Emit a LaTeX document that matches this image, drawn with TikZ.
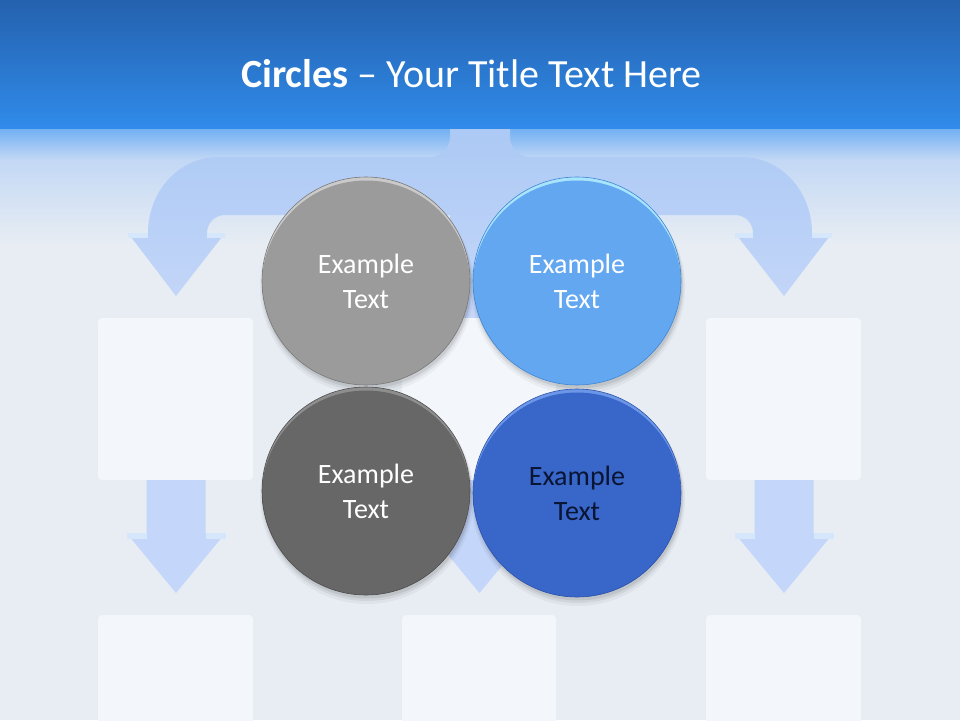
\documentclass[tikz,border=0pt]{standalone}
\usepackage{fontspec}
\setmainfont{Carlito}
\usetikzlibrary{calc}

\definecolor{hdrtop}{HTML}{2461AE}
\definecolor{hdrbot}{HTML}{308BEA}
\definecolor{fadeA}{HTML}{6EAEF3}
\definecolor{fadeB}{HTML}{C3D8F5}
\definecolor{bgmain}{HTML}{E8EDF3}
\definecolor{treetop}{HTML}{A9C8F4}
\definecolor{treebot}{HTML}{C6D7F9}
\definecolor{arrowcol}{HTML}{C4D6F9}
\definecolor{bandcol}{HTML}{D6E7FB}
\definecolor{boxcol}{HTML}{F3F7FC}

\definecolor{gA}{HTML}{9B9B9B}
\definecolor{gAr}{HTML}{808080}
\definecolor{gAh}{HTML}{CACACA}
\definecolor{gAe}{HTML}{787878}
\definecolor{bA}{HTML}{62A7F0}
\definecolor{bAr}{HTML}{448CDB}
\definecolor{bAh}{HTML}{A8E4FB}
\definecolor{bAe}{HTML}{4085D3}
\definecolor{gB}{HTML}{676767}
\definecolor{gBr}{HTML}{4F4F4F}
\definecolor{gBh}{HTML}{8E8E8E}
\definecolor{gBe}{HTML}{4E4E4E}
\definecolor{bB}{HTML}{3866C9}
\definecolor{bBr}{HTML}{2D53AE}
\definecolor{bBh}{HTML}{6C97E8}
\definecolor{bBe}{HTML}{2E52A8}
\definecolor{navytext}{HTML}{0A1533}

\pgfdeclareradialshading{rimgA}{\pgfpoint{0bp}{0bp}}{color(0bp)=(gA);color(40bp)=(gA);color(48bp)=(gAr);color(50bp)=(gAr)}
\pgfdeclareradialshading{rimbA}{\pgfpoint{0bp}{0bp}}{color(0bp)=(bA);color(40bp)=(bA);color(48bp)=(bAr);color(50bp)=(bAr)}
\pgfdeclareradialshading{rimgB}{\pgfpoint{0bp}{0bp}}{color(0bp)=(gB);color(40bp)=(gB);color(48bp)=(gBr);color(50bp)=(gBr)}
\pgfdeclareradialshading{rimbB}{\pgfpoint{0bp}{0bp}}{color(0bp)=(bB);color(40bp)=(bB);color(48bp)=(bBr);color(50bp)=(bBr)}

\tikzset{
  boxpanel/.style={fill=boxcol, rounded corners=4pt},
  arrowfill/.style={fill=arrowcol},
  bandfill/.style={fill=bandcol},
  bubbletext/.style={shape=circle, minimum size=208pt, inner sep=0pt, align=center,
    font=\fontsize{28}{35}\selectfont},
  titletext/.style={font=\fontsize{40}{46}\selectfont, text=white, anchor=base},
}

\newcommand\drawbubble[4]{%
  \fill[black,opacity=0.04] ($(#1)+(1,6)$) circle (107);
  \fill[black,opacity=0.06] ($(#1)+(1,4.5)$) circle (105.5);
  \fill[black,opacity=0.08] ($(#1)+(1,3)$) circle (104.5);
  \begin{scope}
    \clip (#1) circle (104);
    \fill[#3] (#1) circle (104);
    \shade[shading=#2] ($(#1)+(0,3.5)$) circle (104);
  \end{scope}
  \draw[#4, line width=0.6pt] (#1) circle (104);
}

\newcommand\downarrowshape[1]{%
  \fill[arrowfill] (#1-29.5,480) -- (#1+29.5,480) -- (#1+29.5,533) -- (#1+49.5,533)
    -- (#1,593) -- (#1-49.5,533) -- (#1-29.5,533) -- cycle;
  \fill[bandfill] (#1-49.5,533) rectangle (#1-29.5,539);
  \fill[bandfill] (#1+29.5,533) rectangle (#1+49.5,539);
}

\begin{document}
\begin{tikzpicture}[x=1pt, y=-1pt]
\useasboundingbox (0,0) rectangle (960,720);
\clip (0,0) rectangle (960,720);

% background
\fill[bgmain] (0,0) rectangle (960,720);
\shade[top color=fadeB, bottom color=bgmain] (0,159) rectangle (960,245);
\shade[top color=fadeA, bottom color=fadeB] (0,127) rectangle (960,160);

% tree of bent arrows
\shade[top color=treetop, bottom color=treebot]
  (450,110) -- (450,137)
  .. controls (450,148) and (441,157) .. (430,157)
  -- (218,157)
  .. controls (179.4,157) and (148,191) .. (148,233)
  -- (128,233) -- (176,296) -- (225,233) -- (207,233)
  .. controls (207,223) and (215,215) .. (225,215)
  -- (450,215) -- (450,318) -- (509,318) -- (509,215)
  -- (735,215)
  .. controls (745,215) and (753,223) .. (753,233)
  -- (735,233) -- (784,296) -- (832,233) -- (812,233)
  .. controls (812,191) and (780.6,157) .. (742,157)
  -- (530,157)
  .. controls (519,157) and (510,148) .. (510,137)
  -- (510,110) -- cycle;
\fill[bandfill] (128,233) rectangle (148,238);
\fill[bandfill] (207,233) rectangle (225,238);
\fill[bandfill] (735,233) rectangle (753,238);
\fill[bandfill] (812,233) rectangle (832,238);

% header
\shade[top color=hdrtop, bottom color=hdrbot] (0,0) rectangle (960,128);
\node[titletext] (title) at (471.5,87) {\textbf{Circles} – Your Title Text Here};

% boxes
\fill[boxpanel] (98,318) rectangle (253,480);
\fill[boxpanel] (402,318) rectangle (556,480);
\fill[boxpanel] (706,318) rectangle (861,480);
\fill[boxpanel] (98,615) rectangle (253,735);
\fill[boxpanel] (402,615) rectangle (556,735);
\fill[boxpanel] (706,615) rectangle (861,735);

% down arrows
\downarrowshape{176}
\downarrowshape{479.5}
\downarrowshape{784}

% circles
\coordinate (p1) at (366,281);
\coordinate (p2) at (577,281);
\coordinate (p3) at (366,491);
\coordinate (p4) at (577,493);
\drawbubble{p1}{rimgA}{gAh}{gAe}
\drawbubble{p2}{rimbA}{bAh}{bAe}
\drawbubble{p3}{rimgB}{gBh}{gBe}
\drawbubble{p4}{rimbB}{bBh}{bBe}

\node[bubbletext, text=white] (c1) at (p1) {Example\\Text};
\node[bubbletext, text=white] (c2) at (p2) {Example\\Text};
\node[bubbletext, text=white] (c3) at (p3) {Example\\Text};
\node[bubbletext, text=navytext] (c4) at (p4) {Example\\Text};
\end{tikzpicture}
\end{document}
